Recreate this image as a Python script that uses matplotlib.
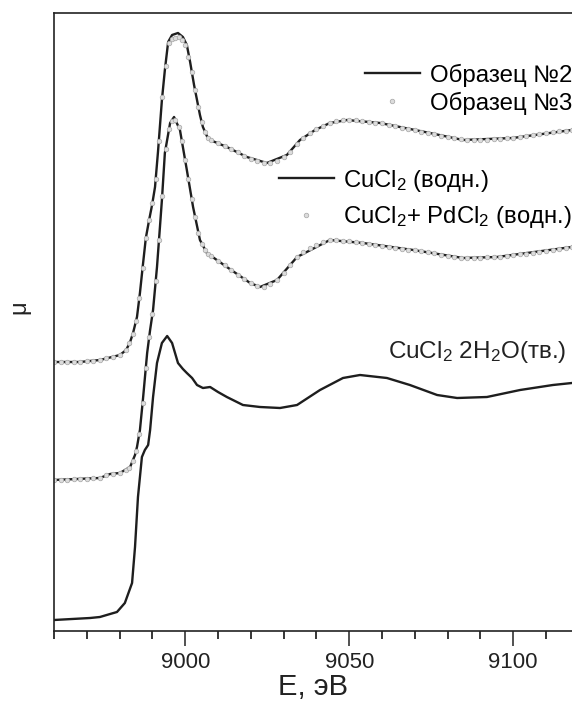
import numpy as np
import matplotlib
matplotlib.use("Agg")
import matplotlib.pyplot as plt
from matplotlib.ticker import MultipleLocator

plt.rcParams["font.family"] = ["Liberation Sans", "DejaVu Sans"]
plt.rcParams["mathtext.fontset"] = "custom"
plt.rcParams["mathtext.rm"] = "Liberation Sans"
plt.rcParams["mathtext.default"] = "regular"

# --- data (E in eV, mu in arbitrary units, curves already shifted) ---
# Образец №2 (line)
E_s2 = [8960.0, 8967.9, 8974.0, 8977.7, 8980.1, 8982.0, 8983.2, 8984.1, 8985.3,
        8986.2, 8987.1, 8988.0, 8989.0, 8989.9, 8990.8, 8991.7, 8992.9, 8993.8,
        8994.8, 8996.0, 8997.8, 8999.3, 9000.5, 9001.5, 9002.7, 9003.6, 9004.5,
        9005.4, 9006.6, 9007.6, 9012.7, 9018.8, 9024.9, 9031.0, 9035.0, 9039.6,
        9044.1, 9049.3, 9059.4, 9074.6, 9084.7, 9099.9, 9117.9]
mu_s2 = [2.69, 2.69, 2.71, 2.74, 2.76, 2.81, 2.89, 2.98, 3.14,
         3.38, 3.66, 3.93, 4.11, 4.26, 4.44, 4.79, 5.31, 5.61,
         5.89, 5.96, 5.98, 5.94, 5.86, 5.69, 5.46, 5.31, 5.16,
         5.04, 4.95, 4.91, 4.84, 4.74, 4.68, 4.76, 4.91, 5.01,
         5.08, 5.11, 5.08, 4.98, 4.91, 4.93, 5.01]

# measurement grid of the point series
E_pts = np.concatenate([np.arange(8960, 8983, 2), np.arange(8983, 9009, 1),
                        np.arange(9010, 9119, 2)])

# Образец №3 (points)
mu_s3 = [2.69, 2.69, 2.69, 2.69, 2.69, 2.70, 2.70, 2.71, 2.73, 2.74, 2.76, 2.81,
         2.88, 2.97, 3.10, 3.33, 3.63, 3.93, 4.11, 4.28, 4.52, 4.90, 5.34, 5.65,
         5.88, 5.92, 5.93, 5.94, 5.91, 5.86, 5.74, 5.59, 5.41, 5.24, 5.09, 4.99,
         4.93, 4.91,
         4.88, 4.85, 4.82, 4.79, 4.75, 4.72, 4.70, 4.68, 4.68, 4.70,
         4.74, 4.79, 4.87, 4.93, 4.98, 5.02, 5.05, 5.08, 5.10, 5.11,
         5.11, 5.11, 5.10, 5.09, 5.08, 5.08, 5.06, 5.05, 5.03, 5.02,
         5.01, 4.99, 4.98, 4.97, 4.95, 4.94, 4.93, 4.92, 4.91, 4.91,
         4.91, 4.91, 4.92, 4.92, 4.93, 4.93, 4.94, 4.95, 4.96, 4.97,
         4.98, 4.99, 5.00, 5.00, 5.01]

# CuCl2 (водн.) (line)
E_cu = [8960.0, 8974.0, 8977.1, 8980.1, 8983.2, 8984.7, 8985.3, 8986.2, 8987.1,
        8988.4, 8989.3, 8990.2, 8991.4, 8992.3, 8992.9, 8993.8, 8995.4, 8996.6,
        8998.4, 9000.5, 9002.4, 9004.5, 9006.6, 9012.7, 9019.8, 9022.8, 9028.0,
        9034.1, 9044.1, 9054.2, 9069.5, 9084.7, 9095.1, 9117.9]
mu_cu = [1.51, 1.53, 1.57, 1.58, 1.64, 1.76, 1.84, 2.01, 2.31,
         2.78, 3.01, 3.21, 3.64, 4.04, 4.31, 4.78, 5.08, 5.14,
         5.01, 4.61, 4.24, 3.91, 3.78, 3.64, 3.48, 3.44, 3.51,
         3.74, 3.91, 3.88, 3.81, 3.73, 3.74, 3.84]

# CuCl2 + PdCl2 (водн.) (points)
mu_cupd = [1.51, 1.51, 1.51, 1.52, 1.52, 1.52, 1.53, 1.53, 1.56, 1.57, 1.58, 1.61,
           1.63, 1.70, 1.80, 1.97, 2.28, 2.63, 2.94, 3.17, 3.50, 3.91, 4.35, 4.82,
           5.02, 5.10, 5.11, 5.04, 4.90, 4.71, 4.52, 4.32, 4.14, 3.98, 3.87, 3.81,
           3.77, 3.75,
           3.70, 3.66, 3.61, 3.56, 3.52, 3.48, 3.45, 3.44, 3.47, 3.51,
           3.58, 3.66, 3.74, 3.79, 3.83, 3.86, 3.89, 3.91, 3.91, 3.90,
           3.90, 3.89, 3.88, 3.87, 3.86, 3.85, 3.84, 3.83, 3.82, 3.81,
           3.81, 3.80, 3.79, 3.78, 3.76, 3.75, 3.74, 3.73, 3.73, 3.73,
           3.73, 3.74, 3.74, 3.74, 3.75, 3.76, 3.77, 3.77, 3.78, 3.79,
           3.80, 3.81, 3.82, 3.83, 3.84]

# CuCl2 2H2O (тв.)
E_solid = [8960.0, 8971.0, 8974.0, 8977.1, 8979.2, 8981.6, 8983.8, 8984.7, 8985.6,
           8986.8, 8987.7, 8988.7, 8989.3, 8990.2, 8991.4, 8992.9, 8994.5, 8996.0,
           8997.8, 8999.3, 9000.5, 9002.1, 9003.6, 9005.4, 9007.6, 9010.0, 9012.7,
           9017.6, 9022.8, 9028.9, 9034.1, 9041.1, 9048.1, 9053.3, 9061.5, 9068.5,
           9076.8, 9082.9, 9092.0, 9102.1, 9112.1, 9117.9]
mu_solid = [0.11, 0.13, 0.14, 0.17, 0.19, 0.28, 0.48, 0.84, 1.34,
            1.74, 1.81, 1.86, 2.01, 2.34, 2.68, 2.88, 2.95, 2.88,
            2.68, 2.62, 2.58, 2.53, 2.46, 2.43, 2.44, 2.39, 2.34,
            2.26, 2.24, 2.23, 2.26, 2.41, 2.53, 2.56, 2.53, 2.46,
            2.36, 2.33, 2.34, 2.41, 2.46, 2.48]

# --- figure ---
fig = plt.figure(figsize=(5.72, 7.04), dpi=100)
ax = fig.add_axes([54 / 572, 1 - 631 / 704, 1 - 54 / 572, (631 - 13) / 704])

pt_style = dict(ls="none", marker="o", ms=3.3, mfc="#dcdcdc", mec="#a5a5a5", mew=0.5)
ln_style = dict(color="#1e1e1e", lw=1.7)

l_s2, = ax.plot(E_s2, mu_s2, **ln_style)
m_s3, = ax.plot(E_pts, mu_s3, **pt_style)
l_cu, = ax.plot(E_cu, mu_cu, **ln_style)
m_cupd, = ax.plot(E_pts, mu_cupd, **pt_style)
ax.plot(E_solid, mu_solid, **ln_style)

ax.set_xlim(8960, 8960 + 518 / 3.28)
ax.set_ylim(0, 6.18)

ax.xaxis.set_major_locator(MultipleLocator(50))
ax.xaxis.set_minor_locator(MultipleLocator(10))
ax.tick_params(axis="x", which="major", direction="out", length=11, width=1.1,
               labelsize=16, pad=4, colors="#222222")
ax.tick_params(axis="x", which="minor", direction="out", length=6, width=1.1)
ax.set_yticks([])

for s in ["left", "bottom", "top"]:
    ax.spines[s].set_linewidth(1.2)
    ax.spines[s].set_color("#222222")
ax.spines["right"].set_visible(False)

ax.set_xlabel("E, эВ", fontsize=21, color="#222222", labelpad=0)
ax.set_ylabel("μ", fontsize=17, color="#222222")
ax.yaxis.set_label_coords(-0.046, 0.524)

leg_kw = dict(frameon=False, handlelength=2.3, handletextpad=0.4,
              borderpad=0, borderaxespad=0, numpoints=1, loc="upper right")
leg1 = ax.legend([l_s2, m_s3], ["Образец №2", "Образец №3"], fontsize=17.3,
                 bbox_to_anchor=(1.0, 0.918), labelspacing=0.2, **leg_kw)
ax.add_artist(leg1)
ax.legend([l_cu, m_cupd], ["CuCl$_2$ (водн.)", "CuCl$_2$+ PdCl$_2$ (водн.)"],
          fontsize=17.2, bbox_to_anchor=(1.0, 0.75), labelspacing=0.45, **leg_kw)

ax.text(0.99, 0.452, "CuCl$_2$ 2H$_2$O(тв.)", transform=ax.transAxes,
        ha="right", va="center", fontsize=17.5, color="#222222")

fig.savefig("out.png", dpi=100, facecolor="white")
